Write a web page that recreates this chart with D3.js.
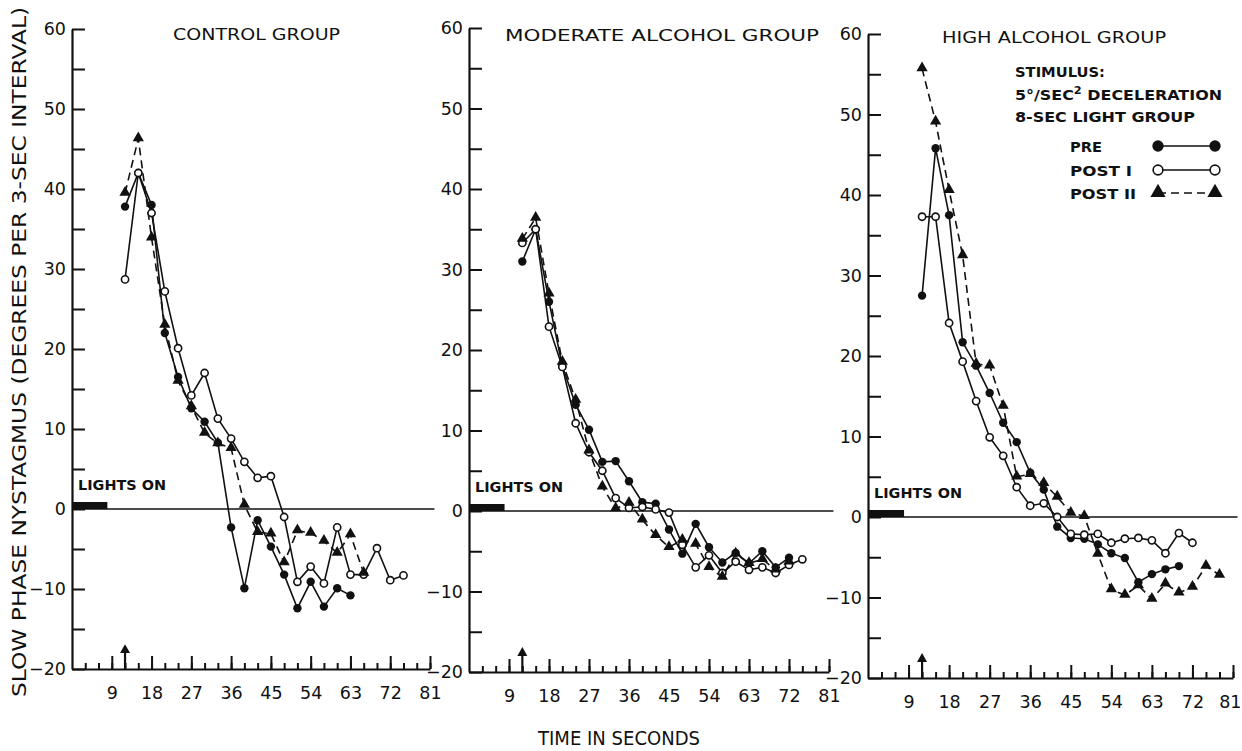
<!DOCTYPE html>
<html>
<head>
<meta charset="utf-8">
<script src="https://cdn.jsdelivr.net/npm/d3@7"></script>
<style>
  body { margin: 0; background: #fff; }
  text { font-family: "DejaVu Sans", "Liberation Sans", sans-serif; fill: #111; }
</style>
</head>
<body>
<svg id="chart" width="1242" height="751"></svg>
<script>
// ---- data -------------------------------------------------------------
const groupTitles = ["CONTROL GROUP", "MODERATE ALCOHOL GROUP", "HIGH ALCOHOL GROUP"];
const seriesNames = ["PRE", "POST I", "POST II"];

// sample times (seconds); each series below starts at the first time
const sampleTimes = [12, 15, 18, 21, 24, 27, 30, 33, 36, 39, 42, 45, 48, 51, 54, 57, 60, 63, 66, 69, 72, 75, 78];

const xTickValues = [9, 18, 27, 36, 45, 54, 63, 72, 81];
const xTickLabels = ["9", "18", "27", "36", "45", "54", "63", "72", "81"];
const xMinorTicks = [3, 6, 9, 12, 15, 18, 21, 24, 27, 30, 33, 36, 39, 42, 45, 48, 51, 54, 57, 60, 63, 66, 69, 72, 75, 78, 81];
const yTickValues = [60, 50, 40, 30, 20, 10, 0, -10, -20];
const yMinorTicks = [55, 45, 35, 25, 15, 5, -5, -15];

// slow phase nystagmus, degrees per 3-sec interval
const controlPre   = [37.8, 42.0, 38.0, 22.0, 16.5, 12.6, 10.9, 8.3, -2.3, -9.9, -1.4, -4.7, -8.2, -12.4, -9.1, -12.2, -9.9, -10.8];
const controlPost1 = [28.7, 42.0, 37.0, 27.2, 20.1, 14.2, 17.0, 11.3, 8.8, 5.9, 3.9, 4.1, -1.0, -9.1, -7.2, -9.3, -2.3, -8.2, -8.2, -4.9, -8.9, -8.3];
const controlPost2 = [39.5, 46.3, 33.9, 23.0, 16.0, 12.8, 9.5, 8.2, 7.6, 0.5, -2.9, -3.1, -6.7, -2.7, -3.0, -4.0, -5.5, -3.2, -8.0];

const moderatePre   = [31.0, 35.0, 26.0, 18.0, 13.2, 10.1, 6.1, 6.2, 3.7, 1.1, 0.9, -2.3, -5.3, -1.6, -4.5, -6.4, -5.2, -6.5, -5.0, -7.0, -5.8];
const moderatePost1 = [33.3, 35.0, 22.9, 17.9, 10.9, 7.3, 5.0, 1.6, 0.4, 0.5, 0.2, -0.2, -4.2, -7.0, -5.5, -7.7, -6.3, -7.3, -7.0, -7.7, -6.7, -6.0];
const moderatePost2 = [33.8, 36.4, 27.0, 18.5, 13.8, 7.5, 3.0, 0.3, 1.0, -1.1, -3.0, -4.5, -3.6, -4.1, -7.0, -8.2, -5.3, -6.5, -6.0, -7.3, -6.3];

const highPre   = [27.5, 45.8, 37.5, 21.7, 18.8, 15.4, 11.7, 9.3, 5.5, 3.4, -1.2, -2.6, -2.7, -3.4, -4.5, -5.1, -8.1, -7.1, -6.5, -6.1];
const highPost1 = [37.3, 37.3, 24.1, 19.3, 14.4, 9.9, 7.6, 3.7, 1.4, 1.7, 0.0, -2.1, -2.2, -2.1, -3.2, -2.7, -2.6, -2.9, -4.5, -2.0, -3.2];
const highPost2 = [55.7, 49.1, 40.6, 32.5, 19.0, 18.8, 13.8, 5.0, 5.3, 4.2, 2.5, 0.5, 0.1, -4.6, -9.0, -9.7, -8.5, -10.2, -8.3, -9.4, -8.7, -6.1, -7.2];

const lightsOnEnd = 8;      // seconds the light stays on
const stimulusTime = 12;    // arrow on the time axis

// ---- layout ------------------------------------------------------------
const panels = [
  { title: groupTitles[0], series: [controlPre, controlPost1, controlPost2],
    x0: 72, x1: 430, yTop: 29, yBot: 669, titleX: 173, titleW: 167, titleY: 40 },
  { title: groupTitles[1], series: [moderatePre, moderatePost1, moderatePost2],
    x0: 469, x1: 829, yTop: 28, yBot: 672, titleX: 505, titleW: 314, titleY: 41 },
  { title: groupTitles[2], series: [highPre, highPost1, highPost2],
    x0: 868, x1: 1233, yTop: 34, yBot: 678, titleX: 942, titleW: 224, titleY: 43 }
];

const svg = d3.select("#chart");
const ink = "#111";

function drawMarker(g, kind, cx, cy, big) {
  const s = big ? 1.35 : 1;
  if (kind === 0) {
    g.append("circle").attr("cx", cx).attr("cy", cy).attr("r", 4.2 * s).attr("fill", ink);
  } else if (kind === 1) {
    g.append("circle").attr("cx", cx).attr("cy", cy).attr("r", 3.6 * s)
      .attr("fill", "#fff").attr("stroke", ink).attr("stroke-width", 1.6);
  } else {
    g.append("path").attr("d", d3.symbol(d3.symbolTriangle, 55 * s * s)())
      .attr("transform", `translate(${cx},${cy - 0.5})`).attr("fill", ink);
  }
}

panels.forEach((p, pi) => {
  const x = d3.scaleLinear().domain([0, 81]).range([p.x0, p.x1]);
  const y = d3.scaleLinear().domain([60, -20]).range([p.yTop, p.yBot]);
  const g = svg.append("g");

  // title
  g.append("text").attr("x", p.titleX).attr("y", p.titleY)
    .attr("font-size", 16).attr("textLength", p.titleW).attr("lengthAdjust", "spacingAndGlyphs")
    .text(p.title);

  // y axis: labelled ticks every 10, unlabelled every 5, ticks pointing inward
  const yAxis = d3.axisLeft(y).tickValues(yTickValues).tickSize(-13).tickSizeOuter(0).tickPadding(6)
    .tickFormat(d3.format("d"));
  const ya = g.append("g").attr("transform", `translate(${p.x0},0)`).call(yAxis);
  ya.selectAll("text").attr("font-size", 17.5).attr("fill", ink);
  const yMinor = d3.axisLeft(y).tickValues(yMinorTicks).tickSize(-13).tickSizeOuter(0).tickFormat("");
  const ym = g.append("g").attr("transform", `translate(${p.x0},0)`).call(yMinor);
  ym.select(".domain").remove();

  // x axis: tall ticks every 9 s, short ticks every 3 s
  const xAxis = d3.axisBottom(x).tickValues(xTickValues).tickSize(-13).tickSizeOuter(0).tickPadding(18)
    .tickFormat((d, i) => xTickLabels[i]);
  const xa = g.append("g").attr("transform", `translate(0,${p.yBot})`).call(xAxis);
  xa.selectAll("text").attr("font-size", 17.5).attr("fill", ink);
  // the last label of the right-hand panel sits against the page edge
  if (pi === panels.length - 1) {
    xa.selectAll("text").filter(d => d === 81).attr("text-anchor", "end").attr("dx", 8);
  }
  const xMinor = d3.axisBottom(x).tickValues(xMinorTicks).tickSize(-6).tickSizeOuter(0).tickFormat("");
  const xm = g.append("g").attr("transform", `translate(0,${p.yBot})`).call(xMinor);
  xm.select(".domain").remove();

  [ya, ym, xa, xm].forEach(a => {
    a.selectAll("line").attr("stroke", ink).attr("stroke-width", 2);
    a.selectAll(".domain").attr("stroke", ink).attr("stroke-width", 2.2);
  });

  // zero line
  g.append("line").attr("x1", x(0)).attr("x2", x(82)).attr("y1", y(0)).attr("y2", y(0))
    .attr("stroke", ink).attr("stroke-width", 1.6);

  // lights-on bar and label
  g.append("rect").attr("x", x(0)).attr("y", y(0) - 7).attr("width", x(lightsOnEnd) - x(0)).attr("height", 7)
    .attr("fill", ink);
  g.append("text").attr("x", x(0) + 6).attr("y", y(0) - 19)
    .attr("font-size", 14).attr("font-weight", "bold").attr("textLength", 88).attr("lengthAdjust", "spacingAndGlyphs")
    .text("LIGHTS ON");

  // stimulus arrow
  const ax = x(stimulusTime);
  g.append("line").attr("x1", ax).attr("x2", ax)
    .attr("y1", y(-20)).attr("y2", y(-18.0)).attr("stroke", ink).attr("stroke-width", 2.2);
  g.append("path")
    .attr("d", `M${ax - 5},${y(-18.0)} L${ax},${y(-16.9)} L${ax + 5},${y(-18.0)} Z`)
    .attr("fill", ink);

  // series
  const line = d3.line().x(d => x(d[0])).y(d => y(d[1]));
  p.series.forEach((vals, k) => {
    const pts = vals.map((v, i) => [sampleTimes[i], v]);
    g.append("path").datum(pts).attr("d", line).attr("fill", "none")
      .attr("stroke", ink).attr("stroke-width", 1.6)
      .attr("stroke-dasharray", k === 2 ? "8,5" : null);
  });
  p.series.forEach((vals, k) => {
    vals.forEach((v, i) => drawMarker(g, k, x(sampleTimes[i]), y(v), false));
  });
});

// ---- legend (high alcohol panel) ----------------------------------------
const leg = svg.append("g");
leg.append("text").attr("x", 1015).attr("y", 77).attr("font-size", 14).attr("font-weight", "bold")
  .attr("textLength", 90).attr("lengthAdjust", "spacingAndGlyphs").text("STIMULUS:");
const l2 = leg.append("text").attr("x", 1015).attr("y", 100).attr("font-size", 14).attr("font-weight", "bold");
l2.append("tspan").text("5°/SEC");
l2.append("tspan").attr("dy", -6).attr("font-size", 10).text("2");
l2.append("tspan").attr("dy", 6).text(" DECELERATION");
leg.append("text").attr("x", 1015).attr("y", 122).attr("font-size", 14).attr("font-weight", "bold")
  .attr("textLength", 180).attr("lengthAdjust", "spacingAndGlyphs").text("8-SEC LIGHT GROUP");

const legY = [146, 170, 193];
const legW = [32, 62, 66];
seriesNames.forEach((name, k) => {
  leg.append("text").attr("x", 1070).attr("y", legY[k] + 6).attr("font-size", 14).attr("font-weight", "bold")
    .attr("textLength", legW[k]).attr("lengthAdjust", "spacingAndGlyphs").text(name);
  leg.append("line").attr("x1", 1158).attr("x2", 1215).attr("y1", legY[k]).attr("y2", legY[k])
    .attr("stroke", ink).attr("stroke-width", 1.6).attr("stroke-dasharray", k === 2 ? "8,5" : null);
  drawMarker(leg, k, 1158, legY[k], true);
  drawMarker(leg, k, 1215, legY[k], true);
});
// stretch the deceleration line to its full width
l2.attr("textLength", 207).attr("lengthAdjust", "spacingAndGlyphs");

// ---- axis titles -------------------------------------------------------
svg.append("text").attr("transform", "translate(26,697) rotate(-90)")
  .attr("font-size", 19).attr("textLength", 690).attr("lengthAdjust", "spacingAndGlyphs")
  .text("SLOW PHASE NYSTAGMUS (DEGREES PER 3-SEC INTERVAL)");
svg.append("text").attr("x", 538).attr("y", 745).attr("font-size", 19)
  .attr("textLength", 162).attr("lengthAdjust", "spacingAndGlyphs").text("TIME IN SECONDS");
</script>
</body>
</html>
